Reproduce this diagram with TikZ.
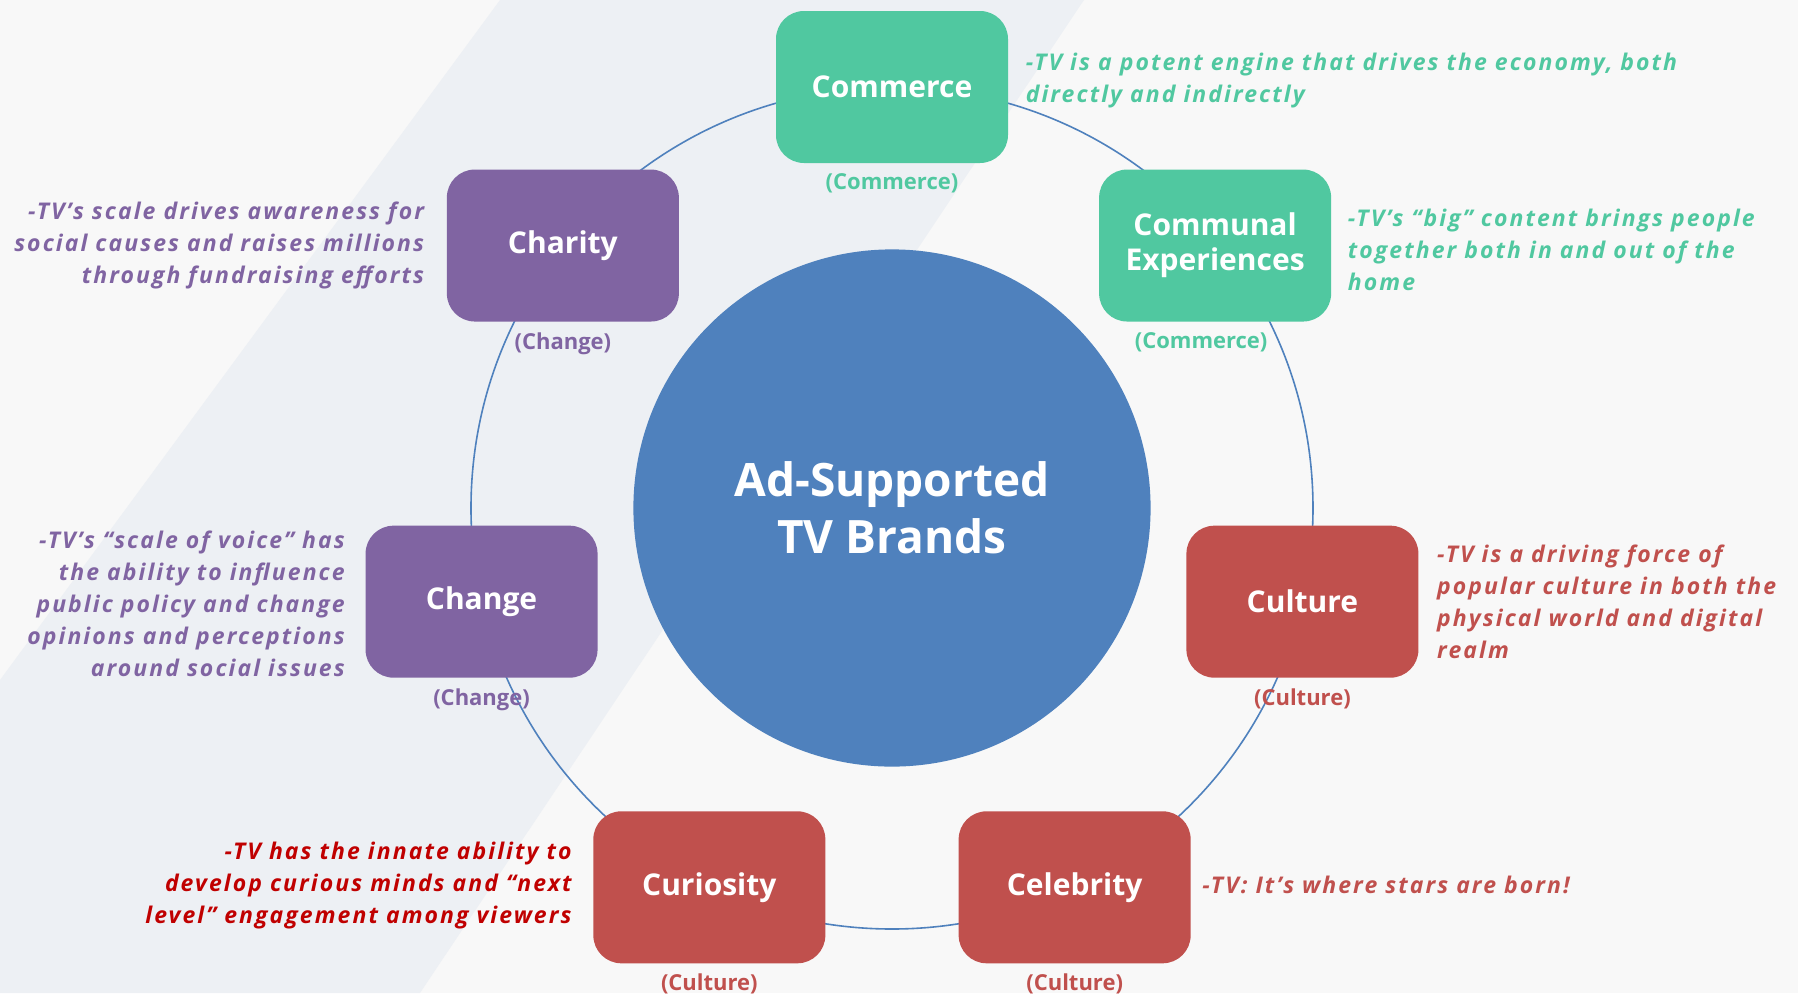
\documentclass[tikz,border=0pt]{standalone}
\usepackage{fontspec}
\setmainfont{Open Sans}
\newfontfamily\blurbfont[LetterSpace=9]{Open Sans}
\usetikzlibrary{positioning}
\definecolor{comgreen}{RGB}{80,200,160}
\definecolor{chgpurple}{RGB}{128,100,162}
\definecolor{culred}{RGB}{192,80,77}
\definecolor{curred}{RGB}{192,0,0}
\definecolor{hubblue}{RGB}{79,129,189}
\definecolor{bgpage}{RGB}{248,248,248}
\definecolor{bgband}{RGB}{237,240,244}

\begin{document}
\begin{tikzpicture}[x=0.5pt,y=0.5pt,
		pillar/.style={rounded corners=14pt,minimum width=116pt,minimum height=76pt,inner sep=2pt,
			text=white,align=center,font=\fontsize{15}{17.5}\selectfont\bfseries},
		tag/.style={inner sep=0pt,font=\fontsize{11}{13}\selectfont\bfseries},
		blurb/.style={inner sep=0pt,font=\blurbfont\fontsize{11.5}{16}\selectfont\bfseries\itshape},
		ring/.style={draw=hubblue,line width=0.8pt}]
		\def\rr{421}
		\def\da{51.4286}
		% background
		\fill[bgpage] (-892,-485) rectangle (906,508);
		\fill[bgband] (-392,508) -- (192,508) -- (-472,-485) -- (-892,-485) -- (-892,-172) -- cycle;
		\useasboundingbox (-892,-485) rectangle (906,508);
		\node[circle,fill=hubblue,minimum size=258.6pt,inner sep=0pt,text=white,align=center,
			font=\fontsize{23}{28.5}\selectfont\bfseries] (hub) at (0,0) {Ad-Supported\\TV Brands};
		\draw[ring] (hub.center) circle (\rr);
		% the seven pillars
		\node[pillar,fill=comgreen] (commerce) at ({90}:\rr) {Commerce};
		\node[pillar,fill=comgreen,xshift=-3pt] (communal) at ({90-\da}:\rr) {Communal\\Experiences};
		\node[pillar,fill=culred] (culture) at ({90-2*\da}:\rr) {Culture};
		\node[pillar,fill=culred] (celebrity) at ({90-3*\da}:\rr) {Celebrity};
		\node[pillar,fill=culred] (curiosity) at ({90-4*\da}:\rr) {Curiosity};
		\node[pillar,fill=chgpurple] (change) at ({90-5*\da}:\rr) {Change};
		\node[pillar,fill=chgpurple] (charity) at ({90-6*\da}:\rr) {Charity};
		% group tags
		\node[tag,text=comgreen,below=5pt of commerce] (tcommerce) {(Commerce)};
		\node[tag,text=comgreen,below=5pt of communal,xshift=-7pt] (tcommunal) {(Commerce)};
		\node[tag,text=culred,below=5pt of culture] (tculture) {(Culture)};
		\node[tag,text=culred,below=5pt of celebrity] (tcelebrity) {(Culture)};
		\node[tag,text=culred,below=5pt of curiosity] (tcuriosity) {(Culture)};
		\node[tag,text=chgpurple,below=5pt of change] (tchange) {(Change)};
		\node[tag,text=chgpurple,below=5pt of charity] (tcharity) {(Change)};
		% blurbs
		\node[blurb,text=comgreen,align=left,right=8.5pt of commerce,yshift=3pt] (bcommerce)
			{-TV is a potent engine that drives the economy, both\\directly and indirectly};
		\node[blurb,text=comgreen,align=left,right=8pt of communal,yshift=-2pt] (bcommunal)
			{-TV’s “big” content brings people\\together both in and out of the\\home};
		\node[blurb,text=culred,align=left,right=9pt of culture] (bculture)
			{-TV is a driving force of\\popular culture in both the\\physical world and digital\\realm};
		\node[blurb,text=culred,align=left,right=5.5pt of celebrity,yshift=1pt] (bcelebrity)
			{-TV: It’s where stars are born!};
		\node[blurb,text=curred,align=right,left=10.5pt of curiosity,yshift=1pt] (bcuriosity)
			{-TV has the innate ability to\\develop curious minds and “next\\level” engagement among viewers};
		\node[blurb,text=chgpurple,align=right,left=10pt of change,yshift=-1pt] (bchange)
			{-TV’s “scale of voice” has\\the ability to influence\\public policy and change\\opinions and perceptions\\around social issues};
		\node[blurb,text=chgpurple,align=right,left=11pt of charity] (bcharity)
			{-TV’s scale drives awareness for\\social causes and raises millions\\through fundraising efforts};
\end{tikzpicture}
\end{document}
